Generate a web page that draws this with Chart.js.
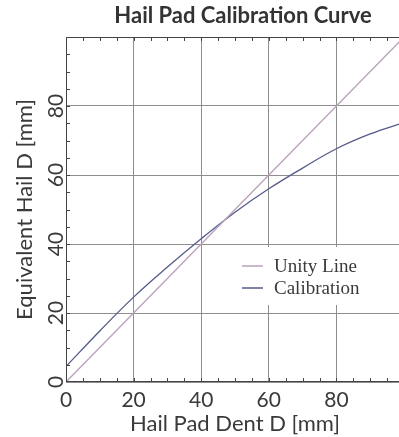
<!DOCTYPE html>
<html>
<head>
<meta charset="utf-8">
<script src="https://cdn.jsdelivr.net/npm/chart.js@4.4.0/dist/chart.umd.min.js"></script>
<style>
	html, body { margin: 0; padding: 0; background: #fff; overflow: hidden; }
	#wrap { width: 410px; height: 437px; }
</style>
</head>
<body>
<div id="wrap"><canvas id="myChart"></canvas></div>
<script>
// datos
const dentD = [0, 10, 20, 30, 40, 50, 60, 70, 80, 90, 100]
const calibration = [4.5, 14.8, 24.6, 33.3, 41.5, 49.2, 56, 62, 67.6, 71.9, 75.2]
const unityX = [0, 100]
const unityY = [0, 100]
const xTickLabels = ['0', '20', '40', '60', '80']
const yTickLabels = ['0', '20', '40', '60', '80']
const seriesNames = ['Unity Line', 'Calibration']
const seriesColors = ['#b9a0bb', '#555a8a']
const chartTitle = 'Hail Pad Calibration Curve'

const textColor = '#3a3a3a'
const gridColor = '#8e8e8e'

// titulo centrado un poco a la derecha, como en la figura
const titlePlugin = {
	id: 'titlePlugin',
	afterDraw(chart) {
		const { ctx } = chart
		ctx.save()
		ctx.font = 'bold 22px Lato'
		ctx.fillStyle = '#333'
		ctx.textAlign = 'center'
		ctx.textBaseline = 'middle'
		ctx.fillText(chartTitle, 243, 16)
		ctx.restore()
	},
}

// leyenda dentro del area del grafico
const boxLegend = {
	id: 'boxLegend',
	beforeDatasetsDraw(chart) {
		const { ctx, chartArea } = chart
		const x0 = chartArea.left + 162
		const y0 = chartArea.top + 210
		ctx.save()
		ctx.fillStyle = '#fff'
		ctx.fillRect(x0, y0, chartArea.right - x0 + 1, 58)
		ctx.font = '19px "Liberation Serif"'
		ctx.textBaseline = 'middle'
		chart.data.datasets.forEach((ds, i) => {
			const y = y0 + 19 + i * 22
			ctx.strokeStyle = ds.borderColor
			ctx.lineWidth = 1.5
			ctx.beginPath()
			ctx.moveTo(x0 + 14, y)
			ctx.lineTo(x0 + 35, y)
			ctx.stroke()
			ctx.fillStyle = textColor
			ctx.fillText(ds.label, x0 + 46, y + 1)
		})
		ctx.restore()
	},
}

// marco y marcas menores hacia adentro
const frameTicks = {
	id: 'frameTicks',
	afterDraw(chart) {
		const { ctx, chartArea, scales } = chart
		ctx.save()
		ctx.strokeStyle = '#444'
		ctx.lineWidth = 1
		ctx.beginPath()
		ctx.moveTo(chartArea.left + 0.5, chartArea.bottom)
		ctx.lineTo(chartArea.left + 0.5, chartArea.top + 0.5)
		ctx.lineTo(chartArea.right, chartArea.top + 0.5)
		ctx.moveTo(chartArea.left, chartArea.bottom - 0.5)
		ctx.lineTo(chartArea.right, chartArea.bottom - 0.5)
		for (let v = 5; v < 100; v += 5) {
			const px = Math.round(scales.x.getPixelForValue(v)) + 0.5
			ctx.moveTo(px, chartArea.bottom)
			ctx.lineTo(px, chartArea.bottom - 4)
			ctx.moveTo(px, chartArea.top)
			ctx.lineTo(px, chartArea.top + 4)
			const py = Math.round(scales.y.getPixelForValue(v)) + 0.5
			ctx.moveTo(chartArea.left, py)
			ctx.lineTo(chartArea.left + 4, py)
		}
		ctx.stroke()
		ctx.restore()
	},
}

const ctx = document.getElementById('myChart').getContext('2d')
const myChart = new Chart(ctx, {
	type: 'scatter',
	data: {
		datasets: [
			{
				label: seriesNames[0],
				data: unityX.map((x, i) => ({ x: x, y: unityY[i] })),
				showLine: true,
				borderColor: seriesColors[0],
				borderWidth: 1.3,
				pointRadius: 0,
			},
			{
				label: seriesNames[1],
				data: dentD.map((x, i) => ({ x: x, y: calibration[i] })),
				showLine: true,
				borderColor: seriesColors[1],
				borderWidth: 1.3,
				pointRadius: 0,
				tension: 0.4,
			},
		],
	},
	options: {
		responsive: true,
		maintainAspectRatio: false,
		animation: false,
		layout: { padding: { top: 37, right: 4, bottom: 0, left: 0 } },
		plugins: {
			legend: { display: false },
			tooltip: { enabled: false },
			title: { display: false },
		},
		scales: {
			x: {
				type: 'linear',
				min: 0,
				max: 100,
				afterFit: (scale) => {
					scale.height = 55
				},
				grid: { color: gridColor, drawTicks: false },
				border: { display: false },
				ticks: {
					stepSize: 20,
					padding: 6,
					color: textColor,
					font: { family: 'Lato', size: 21 },
					callback: (v) => (xTickLabels.includes(String(v)) ? String(v) : ''),
				},
				title: {
					display: true,
					text: 'Hail Pad Dent D [mm]',
					color: textColor,
					font: { family: 'Lato', size: 22 },
					padding: { top: 0, bottom: 0 },
				},
			},
			y: {
				type: 'linear',
				min: 0,
				max: 100,
				afterFit: (scale) => {
					scale.width = 66
				},
				grid: { color: gridColor, drawTicks: false },
				border: { display: false },
				ticks: {
					stepSize: 20,
					padding: -2,
					minRotation: 90,
					maxRotation: 90,
					crossAlign: 'center',
					color: textColor,
					font: { family: 'Lato', size: 21 },
					callback: (v) => (yTickLabels.includes(String(v)) ? String(v) : ''),
				},
				title: {
					display: true,
					text: 'Equivalent Hail D [mm]',
					color: textColor,
					font: { family: 'Lato', size: 22 },
					padding: { top: 12, bottom: 0 },
				},
			},
		},
	},
	plugins: [boxLegend, frameTicks, titlePlugin],
})
</script>
</body>
</html>
